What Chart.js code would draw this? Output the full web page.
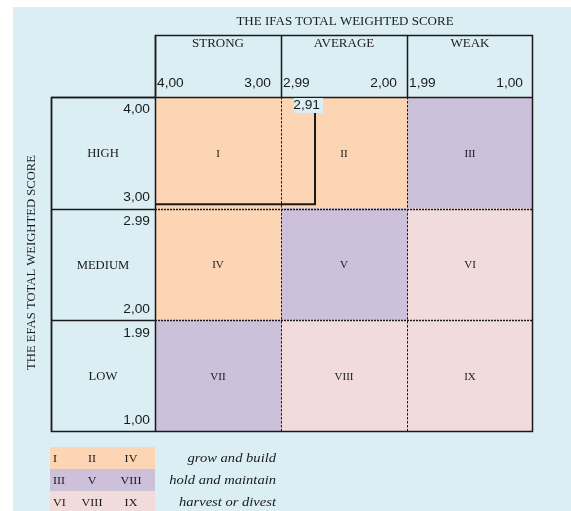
<!DOCTYPE html>
<html>
<head>
<meta charset="utf-8">
<script src="https://cdn.jsdelivr.net/npm/chart.js@4/dist/chart.umd.min.js"></script>
<style>
  html, body { margin: 0; padding: 0; background: #fff; }
  canvas { display: block; }
</style>
</head>
<body>
<canvas id="matrix" width="571" height="511"></canvas>
<script>
// IFAS columns (x) and EFAS rows (y)
const ifasColumns = ['STRONG', 'AVERAGE', 'WEAK'];
const efasRows = ['HIGH', 'MEDIUM', 'LOW'];
const columnRanges = [[4, 3], [3, 2], [2, 1]];
const rowRanges = [[4, 3], [3, 2], [2, 1]];
const ifasTicks = [['4,00', '3,00'], ['2,99', '2,00'], ['1,99', '1,00']];
const efasTicks = [['4,00', '3,00'], ['2.99', '2,00'], ['1.99', '1,00']];
const cellNumbers = [['I', 'II', 'III'], ['IV', 'V', 'VI'], ['VII', 'VIII', 'IX']];
const cellGroups = [[0, 0, 1], [0, 1, 2], [1, 2, 2]];
const groupColors = ['#fcd5b4', '#ccc0da', '#f2dcdb'];
const groupCells = [['I', 'II', 'IV'], ['III', 'V', 'VIII'], ['VI', 'VIII', 'IX']];
const groupNames = ['grow and build', 'hold and maintain', 'harvest or divest'];
// position marker
const scoreX = [4, 2.73, 2.73];
const scoreY = [3.04, 3.04, 3.87];
const scoreLabel = '2,91';

const SERIF = '"Liberation Serif", "Times New Roman", serif';
const SANS = '"Liberation Sans", Arial, sans-serif';
const BG = '#daeef3';
const INK = '#1a1a1a';

function text(ctx, s, x, y, font, align, sx, rot) {
    ctx.save();
    ctx.translate(x, y);
    if (rot) ctx.rotate(rot);
    ctx.scale(sx || 1, 1);
    ctx.font = font;
    ctx.fillStyle = INK;
    ctx.textAlign = align || 'center';
    ctx.textBaseline = 'middle';
    ctx.fillText(s, 0, 0);
    ctx.restore();
}

function line(ctx, x1, y1, x2, y2, w, dash) {
    ctx.save();
    ctx.strokeStyle = INK;
    ctx.lineWidth = w;
    ctx.setLineDash(dash || []);
    ctx.beginPath();
    ctx.moveTo(x1, y1);
    ctx.lineTo(x2, y2);
    ctx.stroke();
    ctx.restore();
}

const matrixPlugin = {
    id: 'matrix',
    beforeDraw(chart) {
        const ctx = chart.ctx;
        ctx.save();
        ctx.fillStyle = '#fff';
        ctx.fillRect(0, 0, chart.width, chart.height);
        ctx.fillStyle = BG;
        ctx.fillRect(13, 7, chart.width - 13, chart.height - 7);
        ctx.restore();
    },
    beforeDatasetDraw(chart, args) {
        if (args.index !== 3) return;
        // inner grid drawn over the cells, under the marker
        const ctx = chart.ctx, a = chart.chartArea;
        const x = chart.scales.x, yv = chart.scales.yv;
        for (let i = 1; i < columnRanges.length; i++) {
            const px = Math.round(x.getPixelForValue(columnRanges[i][0])) + 0.5;
            line(ctx, px, a.top, px, a.bottom, 1, [2.5, 1.5]);
        }
        for (let i = 1; i < rowRanges.length; i++) {
            const py = Math.round(yv.getPixelForValue(rowRanges[i][0])) + 0.5;
            line(ctx, a.left, py, a.right, py, 1.6, [2, 1]);
        }
    },
    afterDraw(chart) {
        const ctx = chart.ctx, a = chart.chartArea;
        const x = chart.scales.x, yv = chart.scales.yv;
        const headTop = 35, labelLeft = 51;

        // titles
        text(ctx, 'THE IFAS TOTAL WEIGHTED SCORE', (a.left + a.right) / 2 + 1, 22, '11.5px ' + SERIF, 'center', 1.13);
        text(ctx, 'THE EFAS TOTAL WEIGHTED SCORE', 32, (a.top + a.bottom) / 2 - 2, '11.5px ' + SERIF, 'center', 1.1, -Math.PI / 2);

        // column headers
        columnRanges.forEach((r, i) => {
            const l = x.getPixelForValue(r[0]), rr = x.getPixelForValue(r[1]);
            text(ctx, ifasColumns[i], (l + rr) / 2, 44, '11.5px ' + SERIF, 'center', 1.13);
            text(ctx, ifasTicks[i][0], l + 2, 84, '12.5px ' + SANS, 'left', 1.1);
            text(ctx, ifasTicks[i][1], rr - 10, 84, '12.5px ' + SANS, 'right', 1.1);
            line(ctx, Math.round(l) + 0.5, headTop, Math.round(l) + 0.5, a.top, 1.5);
        });
        line(ctx, a.right - 0.5, headTop, a.right - 0.5, a.bottom, 1.5);
        line(ctx, a.left, headTop + 0.5, a.right, headTop + 0.5, 1.5);

        // row headers
        rowRanges.forEach((r, i) => {
            const t = yv.getPixelForValue(r[0]), b = yv.getPixelForValue(r[1]);
            text(ctx, efasRows[i], (labelLeft + a.left) / 2, (t + b) / 2 + 1, '11.5px ' + SERIF, 'center', 1.1);
            text(ctx, efasTicks[i][0], a.left - 5, t + 13, '12.5px ' + SANS, 'right', 1.1);
            text(ctx, efasTicks[i][1], a.left - 5, b - 11, '12.5px ' + SANS, 'right', 1.1);
            line(ctx, labelLeft, Math.round(t) + 0.5, a.left, Math.round(t) + 0.5, 1.5);
        });
        line(ctx, labelLeft, a.top + 0.5, a.right, a.top + 0.5, 1.5);
        line(ctx, labelLeft, a.bottom - 0.5, a.right, a.bottom - 0.5, 1.5);
        line(ctx, labelLeft + 0.5, a.top, labelLeft + 0.5, a.bottom, 1.8);
        line(ctx, a.left + 0.5, headTop, a.left + 0.5, a.bottom, 1.5);

        // cell numerals at the bar centres
        for (let c = 0; c < 3; c++) {
            chart.getDatasetMeta(c).data.forEach((bar, r) => {
                const p = bar.getCenterPoint();
                text(ctx, cellNumbers[r][c], p.x, p.y + 1, '11px ' + SERIF, 'center', 1);
            });
        }

        // marker label
        const mx = x.getPixelForValue(scoreX[2]);
        ctx.fillStyle = BG;
        ctx.fillRect(mx - 21, a.top + 1, 29, 15);
        text(ctx, scoreLabel, mx + 5, a.top + 9, '12.5px ' + SANS, 'right', 1.1);

        // strategy key
        const keyTop = 447, keyH = 22;
        const colX = [53, 92, 131];
        groupNames.forEach((name, i) => {
            const y0 = keyTop + i * keyH;
            ctx.fillStyle = groupColors[i];
            ctx.fillRect(labelLeft - 1, y0, a.left - labelLeft + 1, keyH);
            groupCells[i].forEach((s, j) => {
                text(ctx, s, colX[j], y0 + 12, '11px ' + SERIF, j === 0 ? 'left' : 'center', 1.1);
            });
            text(ctx, name, 276, y0 + 12, 'italic 13px ' + SERIF, 'right', 1.12);
        });
    }
};

const cellSets = ifasColumns.map((name, c) => ({
    label: name,
    data: efasRows.map(() => columnRanges[c]),
    backgroundColor: efasRows.map((_, r) => groupColors[cellGroups[r][c]]),
    indexAxis: 'y',
    grouped: false,
    barPercentage: 1,
    categoryPercentage: 1,
    borderWidth: 0,
    xAxisID: 'x',
    yAxisID: 'y',
    order: 1
}));

const markerSet = {
    type: 'line',
    label: 'score',
    data: scoreX.map((v, i) => ({ x: v, y: scoreY[i] })),
    indexAxis: 'x',
    xAxisID: 'x',
    yAxisID: 'yv',
    borderColor: INK,
    borderWidth: 2,
    pointRadius: 0,
    fill: false,
    tension: 0,
    order: 0
};

new Chart(document.getElementById('matrix'), {
    type: 'bar',
    data: { labels: efasRows, datasets: [...cellSets, markerSet] },
    options: {
        responsive: false,
        animation: false,
        layout: { padding: { left: 155, top: 97, right: 38, bottom: 79 } },
        plugins: { legend: { display: false }, tooltip: { enabled: false } },
        scales: {
            x: { type: 'linear', min: 1, max: 4, reverse: true, offset: false, display: false },
            y: { type: 'category', offset: true, display: false },
            yv: { type: 'linear', axis: 'y', min: 1, max: 4, offset: false, display: false }
        }
    },
    plugins: [matrixPlugin]
});
</script>
</body>
</html>
